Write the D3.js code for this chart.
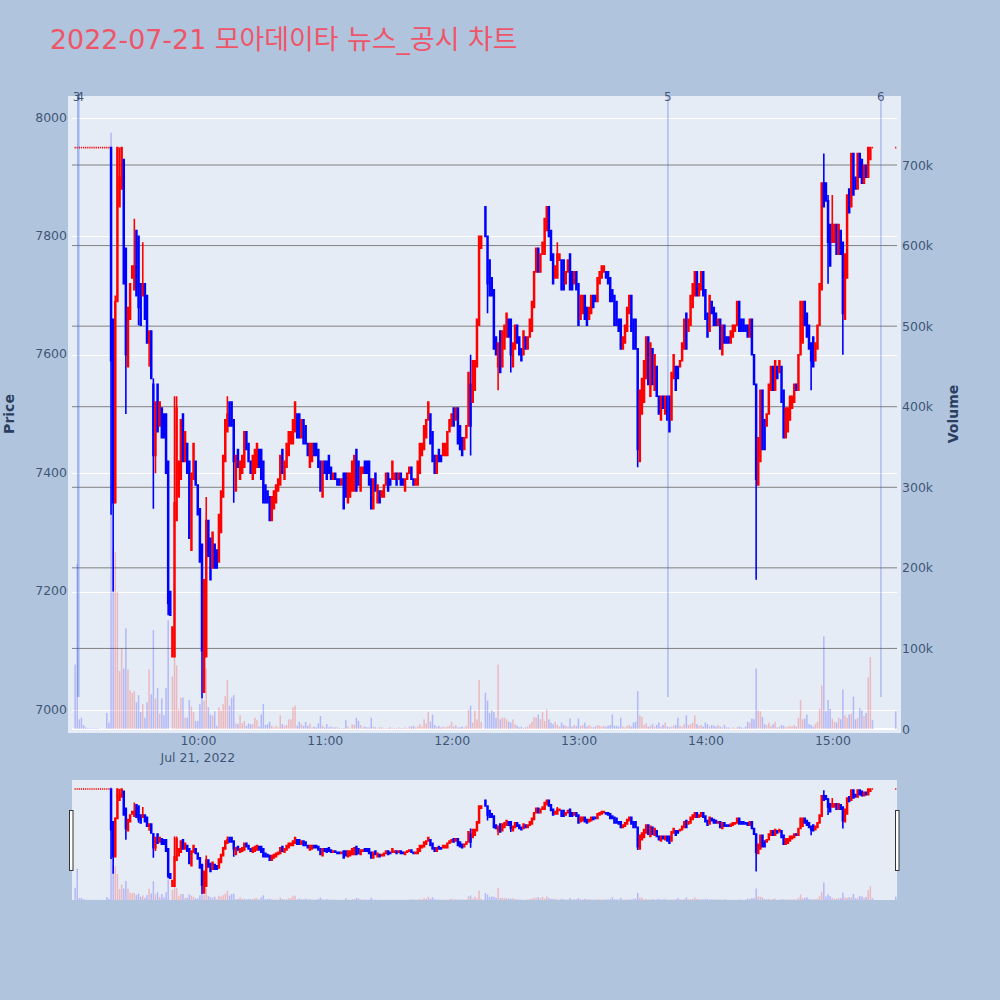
<!DOCTYPE html>
<html><head><meta charset="utf-8">
<script src="https://cdn.jsdelivr.net/npm/d3@7"></script>
<style>html,body{margin:0;padding:0;background:#B0C4DE}svg{display:block}text{font-family:"DejaVu Sans","Noto Sans CJK KR",sans-serif}</style>
</head><body><svg id="c" width="1000" height="1000"></svg>
<script>
const titleText = "2022-07-21 모아데이타 뉴스_공시 차트";
const priceTicks = [7000,7200,7400,7600,7800,8000];
const volumeTicks = [100,200,300,400,500,600,700];
const timeTickHours = [10,11,12,13,14,15];
const timeTickLabels = ["10:00","11:00","12:00","13:00","14:00","15:00"];
const annotationLabels = ["3","4","5","6"];
const annotationMinutes = [2.2,2.8,281.3,382];
// one entry per minute, starting at 09:01
const opens = [
7950,7950,7950,7950,7950,7950,7950,7950,7950,7950,
7950,7950,7950,7950,7950,7950,7950,7950,7660,7350,
7690,7850,7880,7930,7780,7580,7660,7730,7710,7810,
7800,7720,7700,7720,7700,7620,7640,7550,7430,7550,
7480,7510,7500,7500,7420,7200,7090,7090,7320,7360,
7390,7500,7420,7450,7420,7270,7390,7420,7380,7340,
7280,7030,7090,7320,7290,7240,7280,7270,7250,7300,
7360,7420,7470,7520,7520,7490,7370,7440,7390,7400,
7410,7470,7450,7420,7390,7400,7410,7440,7440,7420,
7380,7370,7360,7320,7340,7350,7370,7380,7440,7390,
7410,7430,7450,7450,7470,7500,7500,7460,7490,7480,
7450,7410,7420,7450,7450,7440,7420,7360,7420,7420,
7430,7410,7390,7400,7390,7390,7380,7400,7400,7350,
7360,7370,7370,7440,7420,7370,7400,7420,7420,7420,
7390,7340,7400,7350,7370,7360,7360,7380,7400,7390,
7390,7390,7400,7390,7400,7390,7370,7390,7400,7410,
7390,7380,7380,7400,7430,7440,7460,7490,7500,7470,
7430,7400,7440,7430,7430,7430,7430,7470,7480,7510,
7490,7510,7480,7460,7440,7460,7480,7550,7520,7540,
7580,7650,7780,null,7850,7800,7760,7730,7710,7630,
7580,7640,7580,7610,7630,7660,7660,7580,7610,7650,
7630,7610,7600,7630,7610,7630,7640,7680,7740,7780,
7740,7770,7770,7810,7850,7810,7770,7730,7730,7760,
7760,7760,7720,7740,7770,7740,7720,7740,7720,7660,
7670,7700,7680,7660,7670,7700,7700,7690,7720,7730,
7740,7740,7740,7730,7710,7700,7690,7660,7660,7610,
7620,7640,7670,7700,7660,7660,7610,7420,7500,7520,
7560,7630,7530,7610,7540,7580,7530,7490,7530,7500,
7530,7530,7490,7560,7580,7580,7580,7590,7610,7670,
7640,7650,7680,7700,7740,7700,7710,7740,7710,7670,
7640,7690,7680,7670,7650,7660,7600,7650,7630,7630,
7620,7630,7640,7650,7690,7660,7660,7650,7650,7630,
7660,7600,7550,7380,7420,7540,7490,7480,7500,7540,
7580,7540,7580,7570,7580,7540,7460,7470,7490,7510,
7520,7550,7540,7600,7620,7690,7670,7650,7620,7630,
7590,7610,7650,7710,7890,7890,7860,7820,7790,7790,
7820,7770,7810,7790,7660,7730,7880,7850,7940,7900,
7880,7940,7930,7890,7920,7900,7930,7950,null,null,
null,null,null,null,null,null,null,null,7950];
const closes = [
7950,7950,7950,7950,7950,7950,7950,7950,7950,7950,
7950,7950,7950,7950,7950,7950,7950,7590,7350,7690,
7950,7900,7950,7720,7600,7680,7720,7750,7750,7700,
7680,7650,7720,7660,7620,7640,7560,7430,7520,7470,
7520,7460,7460,7400,7180,7160,7140,7350,7510,7420,
7490,7420,7470,7400,7290,7400,7450,7380,7330,7250,
7100,7220,7320,7260,7220,7300,7240,7240,7330,7370,
7430,7490,7500,7480,7480,7420,7430,7410,7420,7430,
7470,7440,7420,7400,7430,7440,7450,7410,7390,7350,
7350,7350,7320,7360,7370,7380,7390,7430,7400,7420,
7450,7470,7470,7490,7520,7460,7460,7490,7450,7450,
7430,7450,7450,7430,7430,7410,7370,7420,7400,7390,
7400,7390,7400,7390,7380,7380,7390,7340,7360,7400,
7400,7420,7430,7370,7380,7410,7410,7400,7400,7380,
7340,7390,7370,7380,7350,7370,7380,7400,7370,7380,
7420,7400,7380,7400,7380,7380,7390,7400,7410,7390,
7380,7390,7420,7450,7450,7480,7490,7520,7450,7420,
7400,7430,7420,7420,7450,7450,7470,7490,7500,7480,
7510,7450,7440,7430,7460,7480,7570,7480,7590,7590,
7660,7800,7800,null,7800,7720,7700,7700,7610,7600,
7620,7570,7640,7650,7670,7630,7600,7620,7650,7620,
7600,7590,7640,7610,7630,7660,7690,7740,7780,7740,
7770,7790,7830,7850,7800,7760,7720,7750,7770,7770,
7710,7710,7740,7760,7710,7710,7740,7710,7650,7700,
7700,7660,7650,7680,7700,7680,7690,7730,7740,7750,
7750,7730,7720,7690,7690,7650,7650,7640,7610,7630,
7650,7680,7700,7640,7610,7610,7440,7540,7560,7590,
7630,7550,7620,7550,7600,7530,7500,7530,7510,7530,
7490,7470,7570,7600,7540,7560,7590,7620,7660,7610,
7660,7700,7720,7740,7700,7720,7740,7700,7660,7630,
7700,7670,7650,7650,7660,7610,7650,7620,7620,7620,
7640,7650,7650,7690,7640,7640,7640,7640,7630,7660,
7600,7550,7390,7460,7540,7440,7440,7500,7550,7580,
7540,7590,7560,7590,7520,7460,7510,7510,7530,7530,
7550,7540,7600,7690,7690,7650,7630,7610,7590,7580,
7620,7650,7720,7890,7850,7860,7790,7750,7820,7820,
7770,7820,7770,7670,7770,7870,7840,7940,7870,7880,
7940,7900,7890,7920,7900,7950,7950,7950,null,null,
null,null,null,null,null,null,null,null,7950];
const highs = [
7950,7950,7950,7950,7950,7950,7950,7950,7950,7950,
7950,7950,7950,7950,7950,7950,7950,7950,7660,7700,
7950,7950,7950,7930,7780,7680,7720,7750,7830,7810,
7800,7720,7790,7720,7700,7640,7640,7560,7520,7550,
7520,7510,7500,7500,7420,7200,7140,7530,7530,7420,
7490,7500,7470,7450,7420,7400,7450,7420,7380,7340,
7280,7220,7360,7320,7290,7300,7280,7270,7330,7370,
7430,7490,7530,7520,7520,7490,7430,7440,7420,7430,
7470,7470,7450,7420,7430,7440,7450,7440,7440,7420,
7380,7370,7360,7360,7370,7380,7390,7430,7440,7420,
7450,7470,7470,7490,7520,7500,7500,7490,7490,7480,
7450,7450,7450,7450,7450,7440,7420,7420,7420,7420,
7430,7410,7400,7400,7390,7390,7390,7400,7400,7400,
7400,7420,7430,7440,7420,7410,7410,7420,7420,7420,
7390,7390,7400,7380,7370,7370,7380,7400,7400,7390,
7420,7400,7400,7400,7400,7390,7390,7400,7410,7410,
7390,7390,7420,7450,7450,7480,7490,7520,7500,7470,
7430,7430,7440,7430,7450,7450,7470,7490,7500,7510,
7510,7510,7480,7460,7460,7480,7570,7600,7590,7590,
7660,7800,7800,null,7850,7800,7760,7730,7710,7630,
7620,7640,7640,7650,7670,7660,7660,7620,7650,7650,
7630,7610,7640,7630,7630,7660,7690,7740,7780,7780,
7770,7790,7830,7850,7850,7810,7770,7750,7790,7770,
7760,7760,7740,7760,7770,7740,7740,7740,7720,7700,
7700,7700,7680,7680,7700,7700,7700,7730,7740,7750,
7750,7740,7740,7730,7710,7700,7690,7660,7660,7630,
7650,7680,7700,7700,7660,7660,7610,7540,7560,7590,
7630,7630,7620,7610,7600,7580,7530,7530,7530,7530,
7530,7530,7570,7600,7580,7580,7590,7620,7660,7670,
7660,7700,7720,7740,7740,7720,7740,7740,7710,7670,
7700,7690,7680,7670,7660,7660,7650,7650,7630,7630,
7640,7650,7650,7690,7690,7660,7660,7650,7650,7660,
7660,7600,7550,7460,7540,7540,7490,7500,7550,7580,
7580,7590,7580,7590,7580,7540,7510,7510,7530,7530,
7550,7550,7600,7690,7690,7690,7670,7650,7620,7630,
7620,7650,7720,7890,7940,7890,7870,7820,7870,7820,
7820,7820,7810,7790,7770,7870,7880,7940,7940,7900,
7940,7940,7930,7920,7920,7950,7950,7950,null,null,
null,null,null,null,null,null,null,null,7950];
const lows = [
7950,7950,7950,7950,7950,7950,7950,7950,7950,7950,
7950,7950,7950,7950,7950,7950,7950,7330,7200,7350,
7690,7850,7880,7720,7500,7580,7660,7730,7710,7700,
7650,7650,7700,7660,7620,7580,7560,7340,7400,7470,
7480,7460,7460,7400,7160,7160,7090,7090,7320,7360,
7390,7420,7420,7400,7290,7270,7390,7380,7330,7250,
7020,7030,7090,7260,7220,7240,7240,7240,7250,7300,
7360,7420,7470,7480,7480,7350,7370,7410,7390,7400,
7410,7440,7420,7400,7390,7400,7410,7410,7390,7350,
7350,7350,7320,7320,7340,7350,7370,7380,7400,7390,
7410,7430,7450,7450,7470,7460,7460,7460,7450,7450,
7430,7410,7420,7430,7430,7410,7370,7360,7400,7390,
7400,7390,7390,7390,7380,7380,7380,7340,7360,7350,
7360,7370,7370,7370,7380,7370,7400,7400,7400,7380,
7340,7340,7370,7350,7350,7360,7360,7380,7370,7380,
7390,7390,7380,7390,7380,7380,7370,7390,7400,7390,
7380,7380,7380,7400,7430,7440,7460,7490,7450,7420,
7400,7400,7420,7420,7430,7430,7430,7470,7480,7480,
7490,7450,7440,7430,7440,7460,7480,7430,7520,7540,
7580,7650,7780,null,7800,7670,7700,7700,7610,7600,
7540,7570,7580,7610,7630,7630,7570,7580,7610,7620,
7600,7590,7600,7610,7610,7630,7640,7680,7740,7740,
7740,7770,7770,7810,7800,7760,7720,7730,7730,7760,
7710,7710,7720,7740,7710,7710,7720,7710,7650,7660,
7670,7660,7650,7660,7670,7680,7690,7690,7720,7730,
7740,7730,7720,7690,7690,7650,7650,7640,7610,7610,
7620,7640,7670,7640,7610,7610,7410,7420,7500,7520,
7560,7550,7530,7550,7540,7530,7500,7490,7510,7500,
7490,7470,7490,7560,7540,7560,7580,7590,7610,7610,
7640,7650,7680,7700,7700,7700,7710,7700,7660,7630,
7640,7670,7650,7650,7650,7610,7600,7620,7620,7620,
7620,7630,7640,7650,7640,7640,7640,7640,7630,7630,
7600,7550,7220,7380,7420,7440,7440,7480,7500,7540,
7540,7540,7560,7570,7520,7460,7460,7470,7490,7510,
7520,7540,7540,7600,7620,7650,7630,7610,7540,7580,
7590,7610,7650,7710,7850,7860,7720,7750,7790,7790,
7770,7770,7770,7600,7660,7730,7840,7850,7870,7880,
7880,7900,7890,7890,7900,7900,7930,7950,null,null,
null,null,null,null,null,null,null,null,7950];
// volume in thousands
const volumes = [
80,205,12,14,5,2,1,1,1,1,
1,1,0.5,0.5,0.5,20,8,740,225,220,
170,72,100,75,125,74,48,45,47,33,
42,21,31,14,33,74,43,123,38,51,
19,38,17,51,135,0,65,91,79,24,
39,39,14,14,36,28,21,10,10,31,
39,35,75,27,18,17,22,4,27,23,
31,41,61,29,39,42,7,6,17,7,
10,4,7,6,6,14,11,3,18,31,
5,6,9,4,2,4,2,17,6,4,
5,12,12,27,29,4,9,6,4,9,
4,7,2,3,2,7,16,4,2,6,
2,3,2,2,2,1,1,1,11,3,
1,6,5,14,10,5,2,3,2,2,
14,3,2,1,2,2,1,1,1,2,
1,1,1,2,1,1,2,1,3,3,
4,2,3,6,3,12,7,21,9,18,
5,3,4,2,3,2,3,4,9,3,
5,2,2,3,2,4,24,29,8,23,
12,61,9,0,45,35,20,23,21,14,
80,12,14,14,12,9,8,12,6,4,
2,3,1,2,3,6,9,15,14,18,
12,21,10,24,12,8,6,9,5,3,
8,5,4,3,13,3,5,4,13,4,
5,8,3,5,3,2,3,5,4,3,
4,3,4,5,18,4,4,3,14,3,
2,4,5,3,8,9,47,17,15,5,
7,3,4,6,3,5,8,3,5,8,
3,2,3,4,5,14,4,3,6,17,
5,6,8,17,6,4,5,3,8,6,
3,5,4,3,5,3,2,5,2,2,
1,2,1,2,3,2,1,3,9,8,
13,12,75,23,22,15,6,5,8,4,
6,9,2,3,5,4,2,3,4,3,
5,3,14,36,12,13,18,6,5,3,
6,9,25,54,115,22,36,25,13,9,
8,14,12,49,17,14,18,19,40,12,
14,26,23,16,20,64,89,11,0,0,
0,0,0,0,0,0,0,0,22];

const day = h => new Date(Date.UTC(2022,6,21,h));
const at = m => new Date(Date.UTC(2022,6,21,9,0) + m*60000);
const candles = opens.map((o,i)=>({t:at(i+1),o,c:closes[i],h:highs[i],l:lows[i],v:volumes[i]}));

const svg = d3.select("#c");
const ink = "#2a3f5f";
const plotBg = "#E5ECF6";
const up = "#ff0000", down = "#0000ff";

const x = d3.scaleUtc().domain([at(-0.47),at(389.6)]).range([72,897]);
const yP = d3.scaleLinear().domain([7000,8000]).range([710,118]);
const yV = d3.scaleLinear().domain([0,700]).range([729,165]);
const yPs = d3.scaleLinear().domain([7020,7950]).range([894,789]);
const yVs = d3.scaleLinear().domain([0,740]).range([900,787]);

svg.append("text").attr("x",50).attr("y",49).attr("font-size",26.9).attr("fill","#EF5568").text(titleText);

svg.append("rect").attr("x",68).attr("y",96).attr("width",833).attr("height",637).attr("fill",plotBg);
svg.append("rect").attr("x",72).attr("y",780).attr("width",825).attr("height",120).attr("fill",plotBg);

// price grid
svg.append("g").selectAll("line").data(priceTicks).join("line")
  .attr("x1",72).attr("x2",897).attr("y1",d=>Math.round(yP(d))+.5).attr("y2",d=>Math.round(yP(d))+.5)
  .attr("stroke","#fff").attr("stroke-width",1);
// zero line of volume axis
svg.append("line").attr("x1",72).attr("x2",897).attr("y1",yV(0)).attr("y2",yV(0)).attr("stroke","#fff").attr("stroke-width",2);
// volume grid
svg.append("g").selectAll("line").data(volumeTicks).join("line")
  .attr("x1",72).attr("x2",897).attr("y1",d=>yV(d)).attr("y2",d=>yV(d))
  .attr("stroke","#808080").attr("stroke-width",1);

function drawVolume(g,yScale){
  g.selectAll("rect").data(candles.filter(d=>d.v>0)).join("rect")
   .attr("x",d=>x(d.t)-0.75).attr("width",1.5)
   .attr("y",d=>yScale(d.v)).attr("height",d=>yScale(0)-yScale(d.v))
   .attr("fill",d=>d.c>d.o?up:down).attr("opacity",0.22);
}
function drawCandles(g,yScale){
  const w = 0.45;
  g.selectAll("path").data(candles.filter(d=>d.o!==null)).join("path")
   .attr("d",d=>{
     const X=x(d.t), a=yScale(Math.max(d.o,d.c)), b=yScale(Math.min(d.o,d.c));
     if(d.o===d.c && d.h===d.l) return `M${X-0.6},${a}H${X+0.6}`;
     return `M${X},${yScale(d.h)}V${a}M${X-w},${a}H${X+w}V${b}H${X-w}ZM${X},${b}V${yScale(d.l)}`;
   })
   .attr("stroke",d=>d.c>=d.o?up:down)
   .attr("fill",d=>d.c>=d.o?up:down)
   .attr("stroke-width",1.6).attr("fill-opacity",1);
}
drawVolume(svg.append("g"),yV);
drawCandles(svg.append("g"),yP);

// annotations
svg.append("g").selectAll("line").data(annotationMinutes).join("line")
  .attr("x1",d=>x(at(d))).attr("x2",d=>x(at(d))).attr("y1",96).attr("y2",697)
  .attr("stroke","#4169e1").attr("stroke-opacity",0.45).attr("stroke-width",1.2);
svg.append("g").selectAll("text").data(annotationLabels).join("text")
  .attr("x",(d,i)=>x(at(annotationMinutes[i]))+[-1,1.5,0,0][i]).attr("y",101).attr("text-anchor","middle")
  .attr("font-size",12).attr("fill",ink).attr("fill-opacity",0.85).text(d=>d);

// axes
const styleAxis = g => { g.select(".domain").remove(); g.selectAll("line").remove();
  g.selectAll("text").attr("fill",ink).attr("fill-opacity",0.85).attr("font-size",12.5).attr("font-family",'"DejaVu Sans",sans-serif'); };
svg.append("g").attr("transform","translate(67,-1)")
  .call(d3.axisLeft(yP).tickValues(priceTicks).tickSize(0).tickPadding(0).tickFormat(d3.format("d"))).call(styleAxis);
svg.append("g").attr("transform","translate(902,0)")
  .call(d3.axisRight(yV).tickValues([0,...volumeTicks]).tickSize(0).tickPadding(0).tickFormat(d=>d?d+"k":"0")).call(styleAxis);
svg.append("g").attr("transform","translate(-2,736.5)")
  .call(d3.axisBottom(x).tickValues(timeTickHours.map(day)).tickSize(0).tickPadding(0).tickFormat((d,i)=>timeTickLabels[i])).call(styleAxis);
svg.append("text").attr("x",x(day(10))-2).attr("y",762).attr("text-anchor","middle").attr("font-size",12.5).attr("fill",ink).attr("fill-opacity",0.85).text("Jul 21, 2022");
svg.append("text").attr("transform","translate(14,414) rotate(-90)").attr("text-anchor","middle").attr("font-size",14).attr("font-weight","bold").attr("fill",ink).text("Price");
svg.append("text").attr("transform","translate(958,414) rotate(-90)").attr("text-anchor","middle").attr("font-size",14).attr("font-weight","bold").attr("fill",ink).text("Volume");

// range slider
drawVolume(svg.append("g"),yVs);
drawCandles(svg.append("g"),yPs);
svg.append("g").selectAll("rect").data([70,896]).join("rect")
  .attr("x",d=>d-0.5).attr("y",810.5).attr("width",3.5).attr("height",60)
  .attr("fill","#fff").attr("stroke","#333").attr("stroke-width",1);
</script></body></html>
